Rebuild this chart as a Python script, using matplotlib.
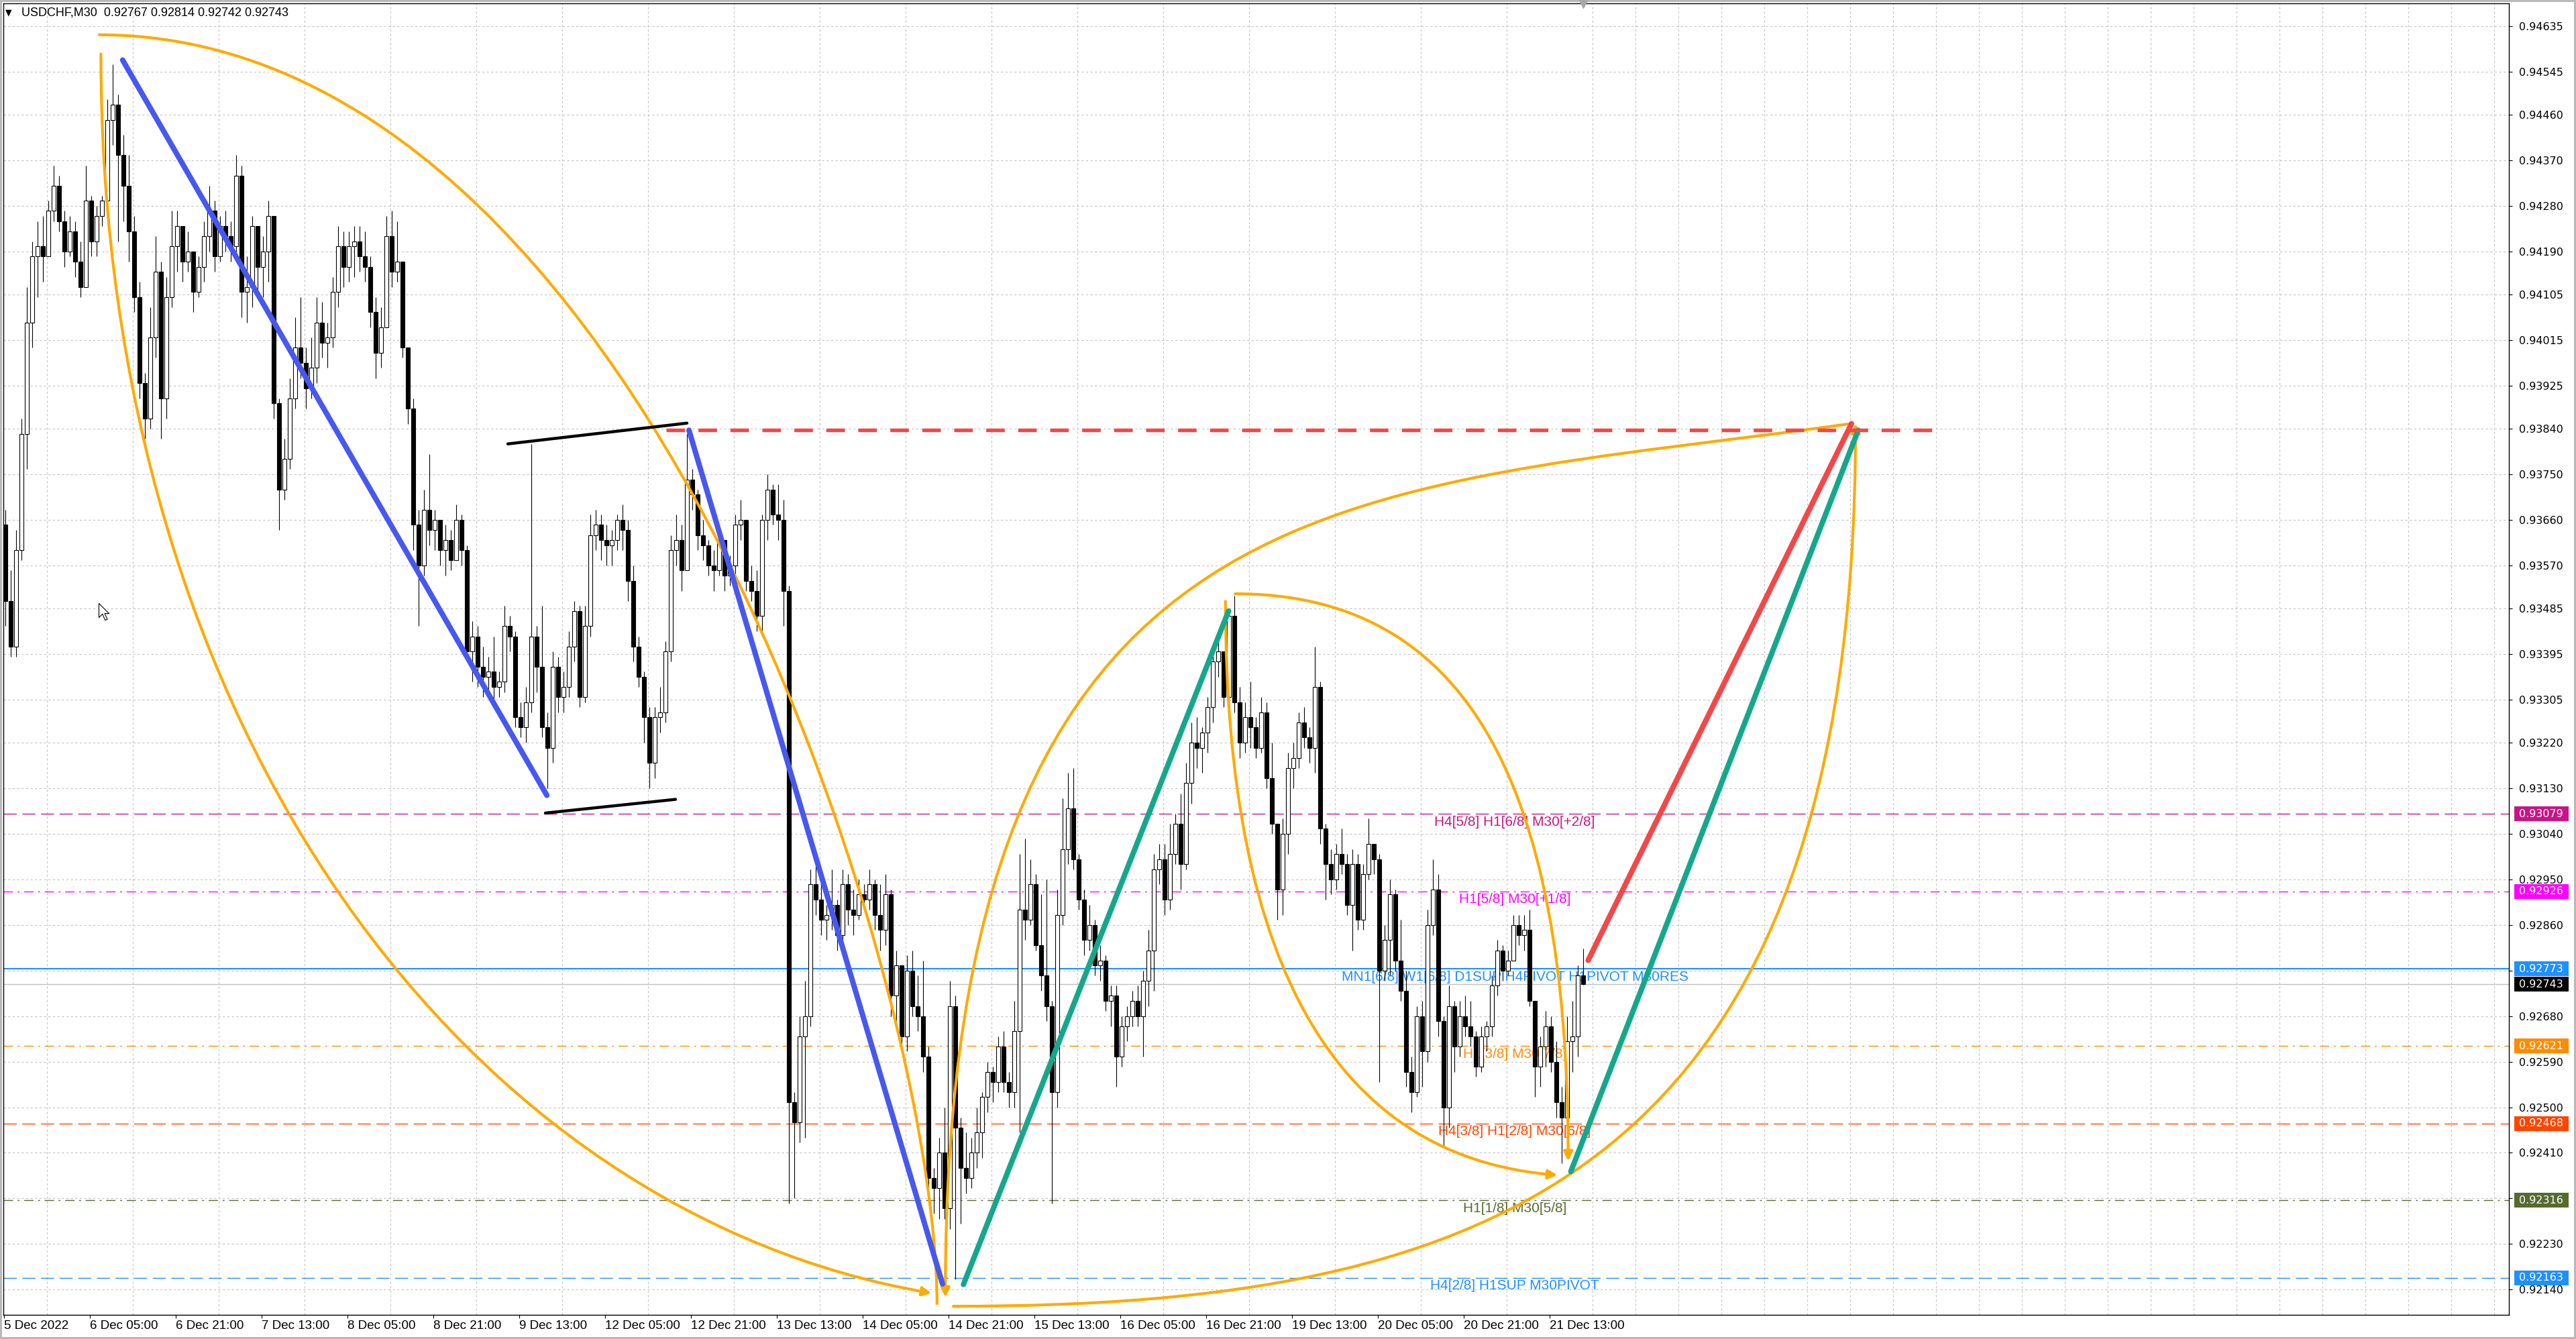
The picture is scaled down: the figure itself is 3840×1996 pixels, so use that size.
import numpy as np
import matplotlib
matplotlib.use("Agg")
import matplotlib.pyplot as plt
from matplotlib.path import Path
from matplotlib.patches import FancyArrowPatch, PathPatch, Rectangle
from matplotlib import transforms

# USDCHF M30 chart, candles (one candle per hour, open = previous close)
first_open = 0.9365
highs = [
    .9368, .9356, .9364, .9386, .9412, .9421, .9425, .9426, .9429, .9436,
    .9434, .9427, .9426, .9425, .9421, .9436, .9430, .9428, .9430, .9449,
    .9456, .9450, .9442, .9438, .9426, .9413, .9395, .9408, .9422, .9417,
    .9414, .9427, .9427, .9424, .9423, .9419, .9418, .9425, .9432, .9429,
    .9426, .9427, .9425, .9438, .9436, .9418, .9426, .9422, .9422, .9429,
    .9426, .9390, .9382, .9394, .9406, .9410, .9400, .9402, .9410, .9409,
    .9405, .9414, .9424, .9423, .9423, .9424, .9424, .9423, .9418, .9410,
    .9408, .9426, .9427, .9425, .9417, .9400, .9390, .9368, .9372, .9379,
    .9368, .9366, .9365, .9364, .9369, .9367, .9361, .9346, .9345, .9341,
    .9339, .9343, .9336, .9349, .9347, .9344, .9330, .9333, .9381, .9345,
    .9349, .9328, .9340, .9339, .9336, .9344, .9350, .9349, .9349, .9367,
    .9368, .9367, .9365, .9364, .9367, .9369, .9366, .9357, .9343, .9336,
    .9329, .9329, .9333, .9342, .9363, .9367, .9365, .9383, .9376, .9372,
    .9366, .9362, .9360, .9364, .9362, .9359, .9367, .9370, .9366, .9357,
    .9356, .9367, .9375, .9373, .9373, .9370, .9353, .9253, .9268, .9275,
    .9297, .9299, .9295, .9290, .9297, .9291, .9297, .9296, .9293, .9295,
    .9294, .9297, .9295, .9294, .9296, .9293, .9281, .9277, .9280, .9281,
    .9276, .9279, .9262, .9238, .9244, .9250, .9275, .9272, .9248, .9245,
    .9244, .9250, .9253, .9259, .9258, .9264, .9265, .9257, .9271, .9300,
    .9303, .9299, .9296, .9292, .9295, .9271, .9293, .9311, .9316, .9317,
    .9300, .9293, .9290, .9287, .9282, .9280, .9274, .9274, .9268, .9270,
    .9273, .9274, .9277, .9285, .9300, .9302, .9302, .9306, .9308, .9312,
    .9318, .9326, .9327, .9325, .9331, .9340, .9344, .9340, .9348, .9351,
    .9333, .9330, .9334, .9327, .9331, .9330, .9322, .9306, .9307, .9320,
    .9322, .9328, .9329, .9325, .9341, .9334, .9306, .9301, .9302, .9305,
    .9300, .9301, .9300, .9298, .9307, .9302, .9300, .9286, .9295, .9293,
    .9287, .9277, .9260, .9270, .9271, .9289, .9299, .9296, .9268, .9274,
    .9271, .9271, .9272, .9271, .9265, .9266, .9267, .9276, .9283, .9282,
    .9281, .9288, .9288, .9288, .9289, .9270, .9264, .9269, .9268, .9263,
    .9254, .9268, .9271, .9278, .92814,
]
lows = [
    .9345, .9339, .9339, .9358, .9376, .9400, .9410, .9413, .9419, .9425,
    .9423, .9416, .9418, .9414, .9410, .9412, .9418, .9418, .9424, .9426,
    .9440, .9421, .9425, .9417, .9407, .9390, .9382, .9384, .9398, .9382,
    .9386, .9408, .9415, .9413, .9415, .9407, .9410, .9413, .9419, .9415,
    .9417, .9419, .9417, .9419, .9406, .9405, .9408, .9411, .9410, .9413,
    .9386, .9364, .9370, .9376, .9388, .9394, .9388, .9390, .9393, .9398,
    .9396, .9400, .9408, .9412, .9413, .9414, .9415, .9413, .9404, .9394,
    .9396, .9404, .9412, .9413, .9398, .9385, .9360, .9345, .9355, .9361,
    .9360, .9357, .9355, .9356, .9358, .9357, .9338, .9334, .9333, .9331,
    .9332, .9330, .9331, .9332, .9340, .9325, .9323, .9322, .9328, .9332,
    .9323, .9313, .9318, .9328, .9328, .9331, .9338, .9329, .9330, .9343,
    .9360, .9358, .9357, .9357, .9360, .9360, .9350, .9338, .9333, .9322,
    .9313, .9315, .9324, .9326, .9338, .9357, .9352, .9356, .9368, .9360,
    .9358, .9355, .9352, .9355, .9352, .9353, .9355, .9362, .9352, .9350,
    .9344, .9343, .9362, .9365, .9362, .9345, .9231, .9232, .9243, .9244,
    .9266, .9288, .9284, .9283, .9285, .9281, .9283, .9286, .9284, .9287,
    .9289, .9289, .9285, .9281, .9282, .9268, .9267, .9262, .9261, .9268,
    .9265, .9257, .9233, .9229, .9228, .9228, .9226, .9216, .9227, .9233,
    .9234, .9238, .9240, .9249, .9251, .9253, .9253, .9250, .9250, .9245,
    .9283, .9286, .9281, .9273, .9267, .9231, .9250, .9286, .9298, .9297,
    .9289, .9280, .9281, .9276, .9275, .9269, .9266, .9254, .9258, .9263,
    .9266, .9266, .9260, .9270, .9273, .9294, .9288, .9289, .9298, .9293,
    .9297, .9310, .9317, .9316, .9320, .9326, .9335, .9329, .9329, .9328,
    .9319, .9320, .9321, .9319, .9320, .9313, .9304, .9287, .9288, .9300,
    .9313, .9317, .9321, .9318, .9316, .9302, .9291, .9292, .9293, .9296,
    .9288, .9281, .9285, .9285, .9295, .9296, .9255, .9275, .9276, .9277,
    .9271, .9254, .9249, .9252, .9254, .9259, .9284, .9264, .9242, .9246,
    .9257, .9260, .9264, .9262, .9256, .9257, .9261, .9264, .9272, .9275,
    .9276, .9280, .9282, .9281, .9270, .9252, .9254, .9258, .9257, .9248,
    .9239, .9246, .9257, .9260, .92742,
]
closes = [
    .9350, .9341, .9360, .9383, .9405, .9418, .9420, .9418, .9427, .9432,
    .9425, .9419, .9423, .9417, .9412, .9429, .9421, .9426, .9429, .9445,
    .9448, .9438, .9432, .9423, .9410, .9393, .9386, .9402, .9415, .9390,
    .9410, .9420, .9424, .9417, .9419, .9411, .9416, .9422, .9427, .9418,
    .9424, .9422, .9420, .9434, .9411, .9412, .9424, .9416, .9419, .9426,
    .9389, .9372, .9378, .9390, .9400, .9397, .9392, .9396, .9405, .9401,
    .9402, .9411, .9420, .9416, .9420, .9421, .9418, .9416, .9407, .9399,
    .9404, .9422, .9415, .9417, .9400, .9388, .9365, .9357, .9368, .9364,
    .9366, .9360, .9362, .9358, .9366, .9360, .9340, .9343, .9337, .9335,
    .9336, .9333, .9334, .9345, .9343, .9327, .9325, .9330, .9343, .9337,
    .9325, .9321, .9337, .9331, .9333, .9341, .9348, .9331, .9345, .9363,
    .9365, .9362, .9361, .9362, .9366, .9364, .9354, .9341, .9335, .9327,
    .9318, .9327, .9328, .9340, .9360, .9362, .9356, .9374, .9371, .9363,
    .9361, .9357, .9356, .9362, .9355, .9357, .9365, .9366, .9354, .9352,
    .9347, .9366, .9372, .9367, .9366, .9352, .9251, .9247, .9264, .9268,
    .9294, .9291, .9287, .9288, .9290, .9284, .9294, .9289, .9288, .9292,
    .9291, .9294, .9288, .9285, .9292, .9272, .9278, .9264, .9277, .9270,
    .9268, .9260, .9236, .9234, .9241, .9230, .9270, .9246, .9238, .9236,
    .9241, .9245, .9252, .9257, .9255, .9262, .9255, .9253, .9265, .9289,
    .9287, .9294, .9282, .9276, .9270, .9253, .9288, .9301, .9309, .9299,
    .9291, .9283, .9286, .9278, .9279, .9271, .9272, .9260, .9266, .9268,
    .9271, .9268, .9275, .9281, .9297, .9299, .9291, .9300, .9306, .9298,
    .9314, .9322, .9321, .9324, .9329, .9338, .9340, .9331, .9347, .9330,
    .9322, .9327, .9325, .9321, .9328, .9315, .9306, .9293, .9304, .9317,
    .9319, .9326, .9323, .9321, .9333, .9305, .9298, .9295, .9300, .9298,
    .9290, .9298, .9287, .9296, .9302, .9299, .9277, .9283, .9292, .9279,
    .9273, .9257, .9253, .9268, .9261, .9286, .9293, .9267, .9250, .9270,
    .9262, .9268, .9266, .9264, .9258, .9264, .9266, .9274, .9281, .9277,
    .9279, .9286, .9284, .9285, .9271, .9258, .9262, .9266, .9259, .9251,
    .9248, .9263, .9264, .9276, .92743,
]

x_labels = ["5 Dec 2022", "6 Dec 05:00", "6 Dec 21:00", "7 Dec 13:00", "8 Dec 05:00",
            "8 Dec 21:00", "9 Dec 13:00", "12 Dec 05:00", "12 Dec 21:00", "13 Dec 13:00",
            "14 Dec 05:00", "14 Dec 21:00", "15 Dec 13:00", "16 Dec 05:00", "16 Dec 21:00",
            "19 Dec 13:00", "20 Dec 05:00", "20 Dec 21:00", "21 Dec 13:00"]
y_ticks = [0.94635, 0.94545, 0.94460, 0.94370, 0.94280, 0.94190, 0.94105, 0.94015,
           0.93925, 0.93840, 0.93750, 0.93660, 0.93570, 0.93485, 0.93395, 0.93305,
           0.93220, 0.93130, 0.93040, 0.92950, 0.92860, 0.92770, 0.92680, 0.92590,
           0.92500, 0.92410, 0.92320, 0.92230, 0.92140]

levels = [0.93079, 0.92926, 0.92773, 0.92621, 0.92468, 0.92316, 0.92163]
level_names = ["H4[5/8] H1[6/8] M30[+2/8]", "H1[5/8] M30[+1/8]",
               "MN1[6/8] W1[6/8] D1SUP H4PIVOT H1PIVOT M30RES", "H1[3/8] M30[7/8]",
               "H4[3/8] H1[2/8] M30[6/8]", "H1[1/8] M30[5/8]", "H4[2/8] H1SUP M30PIVOT"]
level_colors = ["#C71585", "#FF00FF", "#1E90FF", "#FF8C00", "#FF4500", "#556B2F", "#1E90FF"]
level_styles = ["dash", "dashdot", "solid", "dashdot", "dash", "dashdot", "dash"]
label_bar = 563
bid_price = 0.92743
header = "USDCHF,M30  0.92767 0.92814 0.92742 0.92743"

# hand drawn objects, (bar index, price)
blue_lines = [[(44.2, 0.94568), (202.3, 0.93116)], [(255.25, 0.93837), (349.75, 0.92151)]]
black_lines = [[(187.75, 0.93810), (254.5, 0.93851)], [(201.75, 0.93081), (250.25, 0.93108)]]
green_lines = [[(357.55, 0.92150), (456.35, 0.93480)], [(583.9, 0.92373), (691.0, 0.93837)]]
red_line = [(590.35, 0.92790), (688.5, 0.93850)]
red_dash = [(246.85, 0.93838), (721.0, 0.93838)]
# orange arcs as cubic bezier control points, flag = arrow head at the end
orange_arcs = [
    ([(36.1, 0.94580), (36.1, 0.93233), (174.7, 0.92287), (345.6, 0.92133)], True),
    ([(35.1, 0.94618), (238.3, 0.94618), (347.7, 0.92742), (347.7, 0.92110)], False),
    ([(688.2, 0.93850), (502.6, 0.93712), (350.8, 0.93764), (350.8, 0.92125)], True),
    ([(353.75, 0.92107), (555.5, 0.92107), (690.0, 0.92368), (690.0, 0.93850)], True),
    ([(458.8, 0.93514), (543.2, 0.93514), (582.9, 0.93156), (582.9, 0.92394)], True),
    ([(455.2, 0.93499), (455.2, 0.92763), (498.5, 0.92400), (578.9, 0.92366)], True),
]
cursor_pos = (35.25, 0.93496)

fig = plt.figure(figsize=(38.4, 19.96), dpi=100)
fig.patch.set_facecolor("white")
fig.patch.set_edgecolor("#B8B8B8")
fig.patch.set_linewidth(4)
ax = fig.add_axes([5 / 3840, 36 / 1996, 3735 / 3840, 1955 / 1996])
ax.set_xlim(-0.25, 933.5)
ax.set_ylim(0.92090, 0.94680)

# candles
n = len(closes)
c = np.array(closes)
o = np.array([first_open] + closes[:-1])
h = np.maximum(np.array(highs), np.maximum(o, c))
l = np.minimum(np.array(lows), np.minimum(o, c))
xpos = np.arange(n) * 2 + 0.5
ax.vlines(xpos, l, h, color="black", lw=0.8, zorder=3)
up = c >= o
body_lo = np.minimum(o, c)
body_h = np.maximum(np.abs(c - o), 0.000015)
ax.bar(xpos[up], body_h[up], 1.3, bottom=body_lo[up], color="white", edgecolor="black", lw=0.8, zorder=3.1)
ax.bar(xpos[~up], body_h[~up], 1.3, bottom=body_lo[~up], color="black", edgecolor="black", lw=0.8, zorder=3.1)

# level lines + labels
dash_map = {"dash": (0, (14, 6)), "dashdot": (0, (10, 5, 2, 5)), "solid": "-"}
for p, name, col, st in zip(levels, level_names, level_colors, level_styles):
    ax.axhline(p, color=col, lw=1.5 if st == "solid" else 1.0, linestyle=dash_map[st], zorder=2)
    ax.annotate(name, xy=(label_bar, p), xytext=(0, -8.6), textcoords="offset points",
                ha="center", va="center", color=col, fontsize=15, family="Liberation Sans", zorder=2.5)
ax.axhline(bid_price, color="#C0C0C0", lw=1.0, zorder=2)

# drawings
for (x0, y0), (x1, y1) in blue_lines:
    ax.plot([x0, x1], [y0, y1], color="#4758EE", lw=5.8, solid_capstyle="round", zorder=5)
for (x0, y0), (x1, y1) in black_lines:
    ax.plot([x0, x1], [y0, y1], color="black", lw=3.2, solid_capstyle="round", zorder=5)
for (x0, y0), (x1, y1) in green_lines:
    ax.plot([x0, x1], [y0, y1], color="#14A88B", lw=5.8, solid_capstyle="round", zorder=5)
ax.plot([red_line[0][0], red_line[1][0]], [red_line[0][1], red_line[1][1]],
        color="#F64646", lw=5.8, solid_capstyle="round", zorder=5)
ax.plot([red_dash[0][0], red_dash[1][0]], [red_dash[0][1], red_dash[1][1]],
        color="#F64646", lw=3.9, linestyle=(0, (5.1, 3.7)), dash_capstyle="butt", zorder=5)

orange = "#FFAA00"
codes = [Path.MOVETO, Path.CURVE4, Path.CURVE4, Path.CURVE4]
for pts, arrow in orange_arcs:
    path = Path(pts, codes)
    if arrow:
        patch = FancyArrowPatch(path=path, arrowstyle="-|>,head_length=8,head_width=4",
                                color=orange, lw=3, mutation_scale=1, zorder=4)
    else:
        patch = PathPatch(path, facecolor="none", edgecolor=orange, lw=3, zorder=4)
    ax.add_patch(patch)

# mouse cursor
cur_verts = [(0, 0), (0, -16), (4, -12), (7, -19), (9.5, -18), (6.5, -11.5), (11.5, -11.5), (0, 0)]
cur_codes = [Path.MOVETO] + [Path.LINETO] * 6 + [Path.CLOSEPOLY]
ax.plot(*cursor_pos, marker=Path(cur_verts, cur_codes), ms=36, mfc="white", mec="black", mew=0.8, zorder=6)

# axes styling
ax.set_xticks(np.arange(len(x_labels)) * 32)
ax.set_xticklabels(x_labels, ha="left", fontsize=13.5, family="Liberation Sans")
ax.set_xticks(np.arange(16, 934, 16), minor=True)
ax.tick_params(axis="x", which="major", direction="out", length=3.6, width=0.8, pad=2)
ax.tick_params(axis="x", which="minor", length=0)
ax.yaxis.tick_right()
ax.set_yticks(y_ticks)
ax.set_yticklabels([f"{v:.5f}" for v in y_ticks], fontsize=11.5, family="DejaVu Sans")
ax.tick_params(axis="y", direction="out", length=3.6, width=0.8, pad=7)
ax.grid(axis="x", which="minor", color="#C4C4C4", linestyle=(0, (3, 3)), lw=0.8)
ax.grid(axis="y", which="major", color="#C4C4C4", linestyle=(0, (3, 3)), lw=0.8)
for sp in ax.spines.values():
    sp.set_color("black")
    sp.set_linewidth(1.0)

# price boxes on the right scale
box_trans = transforms.blended_transform_factory(ax.transAxes, ax.transData)
box_prices = levels + [bid_price]
box_colors = level_colors + ["black"]
for p, col in zip(box_prices, box_colors):
    ax.add_patch(Rectangle((1.00214, p - 0.000146), 0.02169, 0.000292, transform=box_trans,
                           facecolor=col, edgecolor="none", clip_on=False, zorder=10))
    ax.text(1.00402, p, f"{p:.5f}", transform=box_trans, color="white", fontsize=11.5,
            family="DejaVu Sans", va="center", ha="left", clip_on=False, zorder=11)

# chart shift marker at the last bar
ax.plot(xpos[-1], 0.94680, marker="v", color="#A8A8A8", ms=10, clip_on=False, zorder=7)

# header
fig.text(8 / 3840, 1 - 19 / 1996, "\u25BC", fontsize=9, va="center", ha="left", family="DejaVu Sans")
fig.text(32 / 3840, 1 - 19 / 1996, header, fontsize=13, va="center", ha="left", family="Liberation Sans")

fig.savefig("out.png", dpi=100, facecolor=fig.get_facecolor(), edgecolor=fig.get_edgecolor())
